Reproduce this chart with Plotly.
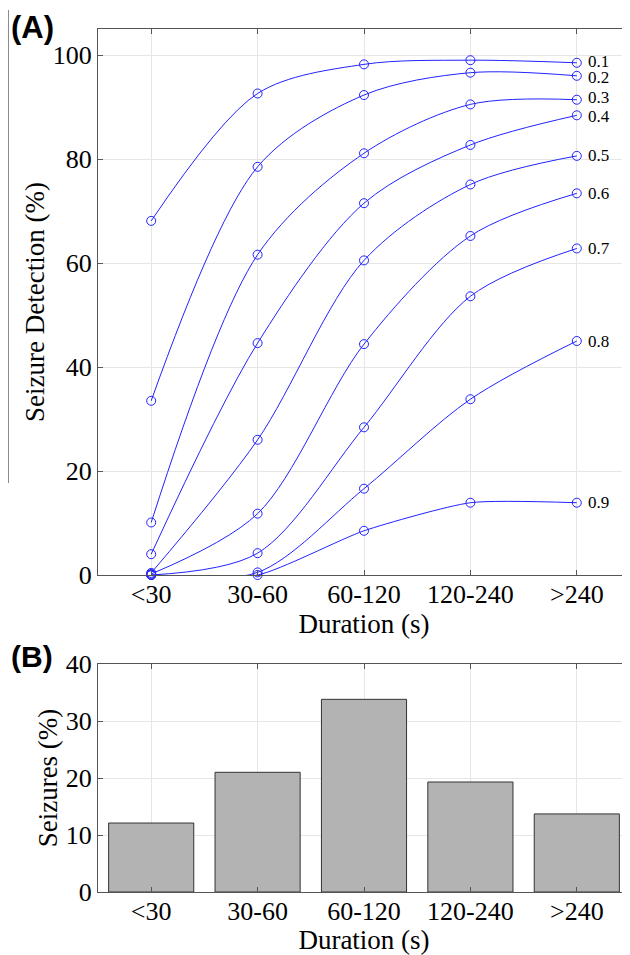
import plotly.graph_objects as go

categories = ["<30", "30-60", "60-120", "120-240", ">240"]
thresholds = ["0.1", "0.2", "0.3", "0.4", "0.5", "0.6", "0.7", "0.8", "0.9"]
detection = {
    "0.1": [68.1, 92.6, 98.2, 99.0, 98.5],
    "0.2": [33.5, 78.5, 92.3, 96.6, 96.0],
    "0.3": [10.1, 61.6, 81.1, 90.5, 91.4],
    "0.4": [4.0, 44.6, 71.5, 82.7, 88.4],
    "0.5": [0.4, 26.0, 60.5, 75.1, 80.6],
    "0.6": [0.2, 11.8, 44.4, 65.2, 73.4],
    "0.7": [0.0, 4.2, 28.4, 53.6, 62.8],
    "0.8": [0.0, 0.5, 16.6, 33.8, 45.0],
    "0.9": [0.0, 0.0, 8.5, 13.9, 13.9],
}
seizure_pct = [12.1, 21.0, 33.8, 19.3, 13.7]
det_ticks = [0, 20, 40, 60, 80, 100]
sz_ticks = [0, 10, 20, 30, 40]

# small vertical nudges (px) of the threshold labels, as in the original
label_yshift = {"0.1": 1, "0.2": -2, "0.3": 2, "0.4": -1}

SERIF = "Liberation Serif, Times New Roman, serif"
SANS = "Liberation Sans, Arial, sans-serif"
BLUE = "#2222ff"
AXC = "#555555"
GRID = "#e6e6e6"

# page body adds an 8px offset; work in reference pixels and compensate
OFF = 8
W, H = 630 - OFF, 955 - OFF
L, R, T, B = 98 - OFF, 0, 29 - OFF, 955 - 892
ph = H - T - B
pw = W - L - R


def py(y):
    return (H - B - (y - OFF)) / ph


def px(x):
    return ((x - OFF) - L) / pw


fig = go.Figure()
xidx = list(range(len(categories)))

for th in thresholds:
    smooth = 0.6 if th == "0.9" else 0.9
    fig.add_trace(go.Scatter(
        x=xidx, y=detection[th], mode="lines+markers",
        line=dict(color=BLUE, width=1, shape="spline", smoothing=smooth),
        marker=dict(symbol="circle-open", size=9, color=BLUE, line=dict(width=1)),
        cliponaxis=False, showlegend=False, xaxis="x", yaxis="y",
    ))
    fig.add_annotation(x=xidx[-1], y=detection[th][-1], xref="x", yref="y",
                       text=th, showarrow=False, xanchor="left", xshift=9,
                       yshift=label_yshift.get(th, 0),
                       font=dict(family=SERIF, size=17, color="black"))

fig.add_trace(go.Bar(
    x=xidx, y=seizure_pct, width=0.8,
    marker=dict(color="#b3b3b3", line=dict(color="#333333", width=1)),
    showlegend=False, xaxis="x2", yaxis="y2",
))

axis_common = dict(
    showline=True, linecolor=AXC, linewidth=1.2, mirror="ticks",
    ticks="inside", ticklen=5, tickcolor=AXC, showgrid=True, gridcolor=GRID,
    gridwidth=1, zeroline=False,
    tickfont=dict(family=SERIF, size=26, color="black"),
)
xfont = dict(family=SERIF, size=27, color="black")

fig.update_layout(
    width=W, height=H, margin=dict(l=L, r=R, t=T, b=B),
    paper_bgcolor="white", plot_bgcolor="white",
    xaxis=dict(axis_common, domain=[0, 1], range=[-0.5, 4.5], anchor="y",
               tickmode="array", tickvals=xidx, ticktext=categories,
               ticklabelstandoff=-4,
               title=dict(text="Duration (s)", standoff=0, font=xfont)),
    yaxis=dict(axis_common, domain=[py(575), 1], range=[0, 105], anchor="x",
               tickmode="array", tickvals=det_ticks,
               title=dict(text="Seizure Detection (%)", standoff=0, font=xfont)),
    xaxis2=dict(axis_common, domain=[0, 1], range=[-0.5, 4.5], anchor="y2",
                tickmode="array", tickvals=xidx, ticktext=categories,
                ticklabelstandoff=-4,
                title=dict(text="Duration (s)", standoff=0, font=xfont)),
    yaxis2=dict(axis_common, domain=[0, py(664)], range=[0, 40], anchor="x2",
                tickmode="array", tickvals=sz_ticks,
                title=dict(text="Seizures (%)", standoff=0, font=xfont)),
)

fig.add_annotation(xref="paper", yref="paper", x=px(9), y=py(27), text="<b>(A)</b>",
                   showarrow=False, xanchor="left", yanchor="middle",
                   font=dict(family=SANS, size=31, color="black"))
fig.add_annotation(xref="paper", yref="paper", x=px(9), y=py(656), text="<b>(B)</b>",
                   showarrow=False, xanchor="left", yanchor="middle",
                   font=dict(family=SANS, size=30, color="black"))
fig.add_shape(type="line", xref="paper", yref="paper", x0=px(8), x1=px(8),
              y0=py(10), y1=py(483), line=dict(color="#666666", width=1.5))

fig.write_html("out.html")
